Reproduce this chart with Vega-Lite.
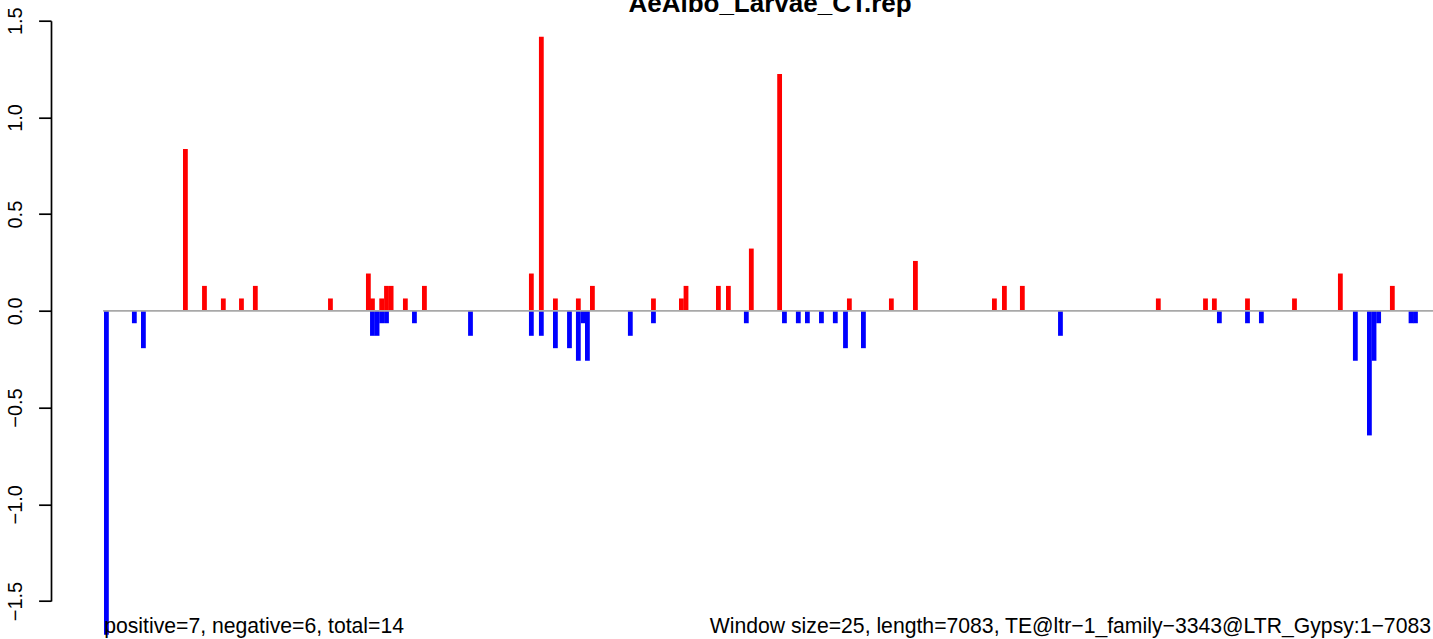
{
  "$schema": "https://vega.github.io/schema/vega-lite/v6.json",
  "width": 1382,
  "height": 580.3,
  "autosize": {"type": "none"},
  "padding": {"left": 51, "top": 20.7, "right": 0, "bottom": 38},
  "background": "white",
  "config": {"view": {"stroke": null}, "font": "Liberation Sans"},
  "datasets": {
    "bars": [
      {"pos": 12, "strand": "minus", "value": -1.674},
      {"pos": 163, "strand": "minus", "value": -0.064},
      {"pos": 212, "strand": "minus", "value": -0.193},
      {"pos": 1450, "strand": "minus", "value": -0.129},
      {"pos": 1475, "strand": "minus", "value": -0.129},
      {"pos": 1500, "strand": "minus", "value": -0.064},
      {"pos": 1526, "strand": "minus", "value": -0.064},
      {"pos": 1677, "strand": "minus", "value": -0.064},
      {"pos": 1980, "strand": "minus", "value": -0.129},
      {"pos": 2309, "strand": "minus", "value": -0.129},
      {"pos": 2363, "strand": "minus", "value": -0.129},
      {"pos": 2439, "strand": "minus", "value": -0.193},
      {"pos": 2515, "strand": "minus", "value": -0.193},
      {"pos": 2563, "strand": "minus", "value": -0.258},
      {"pos": 2589, "strand": "minus", "value": -0.064},
      {"pos": 2612, "strand": "minus", "value": -0.258},
      {"pos": 2844, "strand": "minus", "value": -0.129},
      {"pos": 2969, "strand": "minus", "value": -0.064},
      {"pos": 3471, "strand": "minus", "value": -0.064},
      {"pos": 3677, "strand": "minus", "value": -0.064},
      {"pos": 3752, "strand": "minus", "value": -0.064},
      {"pos": 3801, "strand": "minus", "value": -0.064},
      {"pos": 3877, "strand": "minus", "value": -0.064},
      {"pos": 3952, "strand": "minus", "value": -0.064},
      {"pos": 4007, "strand": "minus", "value": -0.193},
      {"pos": 4104, "strand": "minus", "value": -0.193},
      {"pos": 5169, "strand": "minus", "value": -0.129},
      {"pos": 6028, "strand": "minus", "value": -0.064},
      {"pos": 6180, "strand": "minus", "value": -0.064},
      {"pos": 6255, "strand": "minus", "value": -0.064},
      {"pos": 6763, "strand": "minus", "value": -0.258},
      {"pos": 6839, "strand": "minus", "value": -0.644},
      {"pos": 6864, "strand": "minus", "value": -0.258},
      {"pos": 6889, "strand": "minus", "value": -0.064},
      {"pos": 7064, "strand": "minus", "value": -0.064},
      {"pos": 7088, "strand": "minus", "value": -0.064},
      {"pos": 439, "strand": "plus", "value": 0.837},
      {"pos": 542, "strand": "plus", "value": 0.129},
      {"pos": 644, "strand": "plus", "value": 0.064},
      {"pos": 742, "strand": "plus", "value": 0.064},
      {"pos": 817, "strand": "plus", "value": 0.129},
      {"pos": 1223, "strand": "plus", "value": 0.064},
      {"pos": 1428, "strand": "plus", "value": 0.193},
      {"pos": 1450, "strand": "plus", "value": 0.064},
      {"pos": 1500, "strand": "plus", "value": 0.064},
      {"pos": 1526, "strand": "plus", "value": 0.129},
      {"pos": 1551, "strand": "plus", "value": 0.129},
      {"pos": 1628, "strand": "plus", "value": 0.064},
      {"pos": 1731, "strand": "plus", "value": 0.129},
      {"pos": 2309, "strand": "plus", "value": 0.193},
      {"pos": 2363, "strand": "plus", "value": 1.417},
      {"pos": 2439, "strand": "plus", "value": 0.064},
      {"pos": 2563, "strand": "plus", "value": 0.064},
      {"pos": 2639, "strand": "plus", "value": 0.129},
      {"pos": 2969, "strand": "plus", "value": 0.064},
      {"pos": 3120, "strand": "plus", "value": 0.064},
      {"pos": 3145, "strand": "plus", "value": 0.129},
      {"pos": 3320, "strand": "plus", "value": 0.129},
      {"pos": 3374, "strand": "plus", "value": 0.129},
      {"pos": 3498, "strand": "plus", "value": 0.322},
      {"pos": 3651, "strand": "plus", "value": 1.224},
      {"pos": 4028, "strand": "plus", "value": 0.064},
      {"pos": 4255, "strand": "plus", "value": 0.064},
      {"pos": 4385, "strand": "plus", "value": 0.258},
      {"pos": 4812, "strand": "plus", "value": 0.064},
      {"pos": 4866, "strand": "plus", "value": 0.129},
      {"pos": 4963, "strand": "plus", "value": 0.129},
      {"pos": 5698, "strand": "plus", "value": 0.064},
      {"pos": 5953, "strand": "plus", "value": 0.064},
      {"pos": 6001, "strand": "plus", "value": 0.064},
      {"pos": 6180, "strand": "plus", "value": 0.064},
      {"pos": 6434, "strand": "plus", "value": 0.064},
      {"pos": 6682, "strand": "plus", "value": 0.193},
      {"pos": 6963, "strand": "plus", "value": 0.129}
    ]
  },
  "layer": [
    {
      "data": {"name": "bars"},
      "mark": {"type": "rule", "strokeWidth": 4.8, "strokeCap": "butt"},
      "encoding": {
        "x": {
          "field": "pos",
          "type": "quantitative",
          "scale": {"domain": [-287.5, 7182.8], "nice": false, "zero": false},
          "axis": null
        },
        "y": {
          "field": "value",
          "type": "quantitative",
          "scale": {"domain": [-1.5, 1.5], "nice": false, "zero": false},
          "axis": {
            "values": [-1.5, -1, -0.5, 0, 0.5, 1, 1.5],
            "format": ".1f",
            "title": null,
            "grid": false,
            "domainColor": "black",
            "domainWidth": 1.7,
            "tickColor": "black",
            "tickWidth": 1.7,
            "tickSize": 12.4,
            "labelAngle": 270,
            "labelAlign": "center",
            "labelBaseline": "alphabetic",
            "labelPadding": 17,
            "labelFontSize": 20,
            "labelColor": "black",
            "labelFont": "Liberation Sans",
            "labelOverlap": false,
            "labelFlush": false,
            "labelBound": false
          }
        },
        "y2": {"datum": 0},
        "color": {
          "field": "strand",
          "type": "nominal",
          "scale": {"domain": ["plus", "minus"], "range": ["#FF0000", "#0000FF"]},
          "legend": null
        }
      }
    },
    {
      "data": {"values": [{}]},
      "mark": {"type": "rule", "color": "#A8A8A8", "strokeWidth": 1.7},
      "encoding": {
        "x": {"datum": -6},
        "x2": {"datum": 7182.8},
        "y": {"datum": 0}
      }
    },
    {
      "data": {"values": [{}]},
      "mark": {"type": "text", "align": "center", "baseline": "alphabetic", "fontSize": 26, "fontWeight": "bold", "font": "Liberation Sans", "color": "black"},
      "encoding": {
        "x": {"datum": 3599},
        "y": {"datum": 1.545},
        "text": {"value": "AeAlbo_Larvae_CT.rep"}
      }
    },
    {
      "data": {"values": [{}]},
      "mark": {"type": "text", "align": "left", "baseline": "alphabetic", "fontSize": 21.2, "font": "Liberation Sans", "color": "black"},
      "encoding": {
        "x": {"datum": 0},
        "y": {"datum": -1.667},
        "text": {"value": "positive=7, negative=6, total=14"}
      }
    },
    {
      "data": {"values": [{}]},
      "mark": {"type": "text", "align": "right", "baseline": "alphabetic", "fontSize": 21.2, "font": "Liberation Sans", "color": "black"},
      "encoding": {
        "x": {"datum": 7172},
        "y": {"datum": -1.667},
        "text": {"value": "Window size=25, length=7083, TE@ltr−1_family−3343@LTR_Gypsy:1−7083"}
      }
    }
  ]
}
